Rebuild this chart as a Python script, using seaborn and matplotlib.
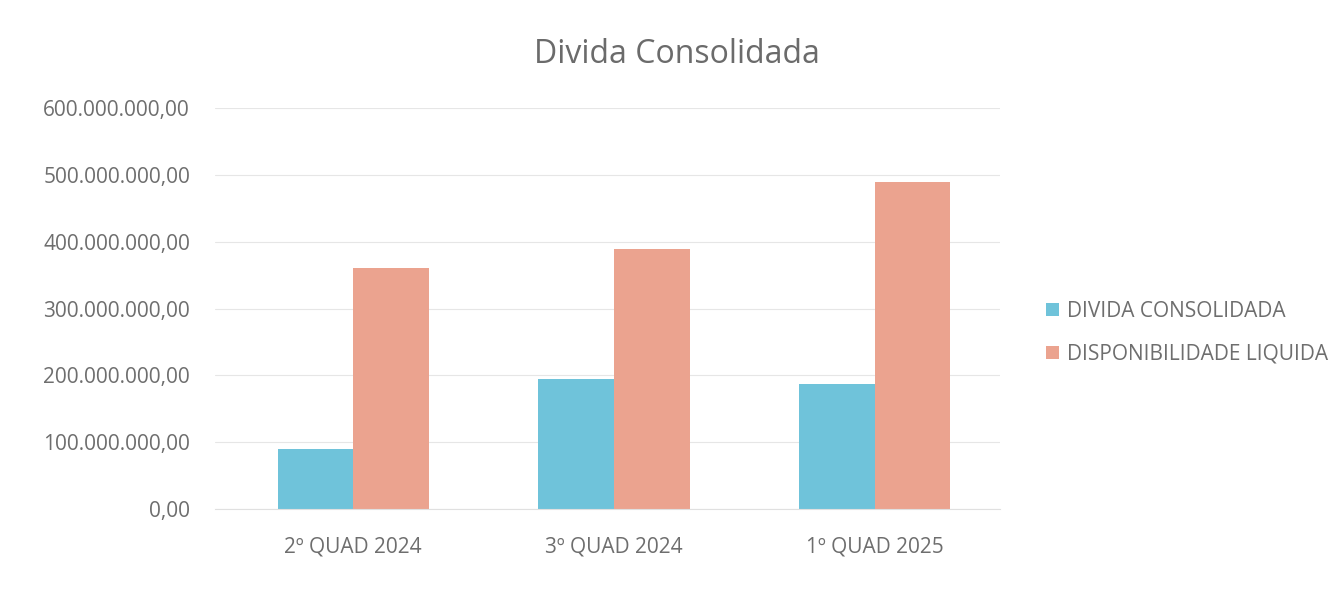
import pandas as pd
import numpy as np
import seaborn as sns
import matplotlib.pyplot as plt
from matplotlib.ticker import FuncFormatter

# values
periods = ["2º QUAD 2024", "3º QUAD 2024", "1º QUAD 2025"]
divida = [90000000, 195000000, 187000000]
disponibilidade = [361000000, 389000000, 490000000]
series_names = ["DIVIDA CONSOLIDADA", "DISPONIBILIDADE LIQUIDA"]
yticks = [0, 100000000, 200000000, 300000000, 400000000, 500000000, 600000000]

df = pd.DataFrame({
    "periodo": periods * 2,
    "valor": divida + disponibilidade,
    "serie": [series_names[0]] * 3 + [series_names[1]] * 3,
})

sns.set_style("white")
plt.rcParams['font.family'] = ['Open Sans', 'DejaVu Sans']

fig = plt.figure(figsize=(13.44, 5.9), dpi=100)
ax = fig.add_axes([0.16, 0.137, 0.584, 0.68])

colors = ["#6fc3da", "#eba38f"]
sns.barplot(data=df, x="periodo", y="valor", hue="serie", palette=colors,
            width=0.58, gap=0, saturation=1, linewidth=0, ax=ax, legend=True)

ax.set_ylim(0, 600000000)
ax.set_xlim(-0.53, 2.48)
ax.set_yticks(yticks)
ax.yaxis.set_major_formatter(FuncFormatter(
    lambda v, p: f"{v:,.2f}".replace(",", "X").replace(".", ",").replace("X", ".")))
ax.grid(axis="y", color="#e6e6e6", linewidth=0.8)
ax.set_axisbelow(True)
for s in ["top", "right", "left"]:
    ax.spines[s].set_visible(False)
ax.spines["bottom"].set_color("#e0e0e0")
ax.tick_params(axis="both", length=0, labelsize=15, labelcolor="#6e6e6e")
ax.tick_params(axis="x", pad=20)
ax.tick_params(axis="y", pad=18)
ax.set_xlabel("")
ax.set_ylabel("")

fig.text(0.504, 0.907, "Divida Consolidada", ha="center", va="center",
         fontsize=23, color="#6b6b6b")

leg = ax.legend(loc="center left", bbox_to_anchor=(1.035, 0.44), frameon=False,
                fontsize=15, labelcolor="#6e6e6e", handlelength=0.6, handleheight=0.6,
                handletextpad=0.4, labelspacing=1.05)

fig.savefig("out.png", dpi=100, facecolor="white")
